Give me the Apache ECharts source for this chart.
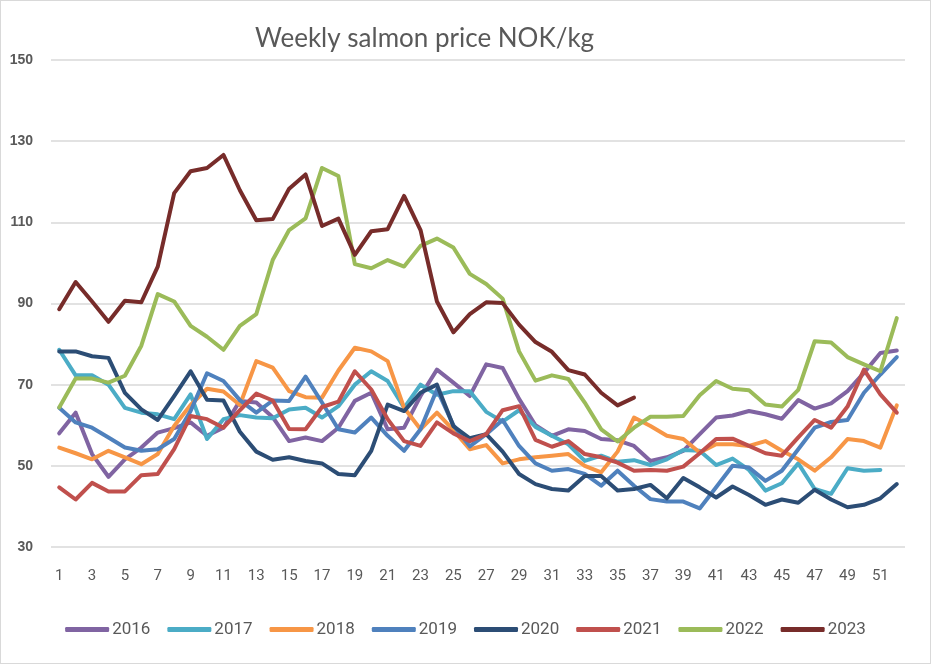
<!DOCTYPE html>
<html lang="en">
<head>
  <meta charset="UTF-8">
  <title>Weekly salmon price NOK/kg</title>
  <style>
    * { margin: 0; padding: 0; }
    html, body { width: 931px; height: 664px; background: #fff; overflow: hidden; }
    #main {
      width: 931px;
      height: 664px;
      box-sizing: border-box;
      border: 1px solid #d9d9d9;
    }
  </style>
</head>
<body>
  <div id="main"></div>
  <script src="https://cdn.jsdelivr.net/npm/echarts@6/dist/echarts.min.js"></script>
  <script>
    // weeks 1..52
    const weeks = []
    for (let i = 1; i <= 52; i++) weeks.push(String(i))

    const years = ['2016', '2017', '2018', '2019', '2020', '2021', '2022', '2023']
    const colors = ['#8064A2', '#4BACC6', '#F79646', '#4F81BD', '#2C4D75', '#C0504D', '#9BBB59', '#772C2A']

    const yTicks = { min: 30, max: 150, interval: 20 }

    const p2016 = [58.0, 63.1, 52.9, 47.3, 51.6, 54.5, 58.2, 59.3, 60.7, 57.4,
      59.4, 66.0, 65.6, 62.0, 56.1, 57.0, 56.1, 59.4, 66.0, 68.0,
      59.0, 59.4, 67.2, 73.7, 70.5, 67.2, 75.0, 74.1, 66.5, 60.0,
      57.4, 59.0, 58.6, 56.6, 56.3, 54.9, 51.2, 52.1, 53.7, 57.8,
      61.9, 62.4, 63.5, 62.7, 61.6, 66.2, 64.1, 65.4, 68.4, 72.9,
      77.8, 78.4]
    const p2017 = [78.6, 72.3, 72.3, 70.0, 64.3, 63.1, 62.7, 61.5, 67.6, 56.6,
      61.5, 62.5, 61.9, 61.7, 63.9, 64.3, 61.9, 64.7, 70.0, 73.3,
      70.9, 64.3, 70.0, 67.5, 68.4, 68.4, 63.3, 60.9, 63.7, 59.6,
      57.4, 55.3, 51.2, 52.5, 51.0, 51.4, 50.2, 51.6, 53.9, 53.7,
      50.2, 51.8, 49.0, 43.9, 45.7, 50.6, 44.3, 43.1, 49.4, 48.8,
      49.0, null]
    const p2018 = [54.5, 53.1, 51.6, 53.7, 52.1, 50.4, 52.9, 59.8, 65.0, 69.0,
      68.3, 65.0, 75.8, 74.2, 68.4, 66.9, 66.8, 73.5, 79.1, 78.2,
      75.8, 64.3, 59.0, 63.1, 58.8, 54.1, 55.1, 50.6, 51.6, 52.1,
      52.5, 52.9, 50.0, 48.4, 53.5, 61.9, 59.8, 57.4, 56.6, 53.3,
      55.3, 55.3, 54.9, 56.1, 53.7, 51.6, 48.8, 52.1, 56.6, 56.1,
      54.5, 64.9]
    const p2019 = [64.3, 60.7, 59.4, 57.0, 54.5, 53.7, 54.1, 56.6, 63.5, 72.8,
      70.9, 66.2, 63.1, 66.1, 66.0, 72.0, 65.6, 59.0, 58.2, 61.9,
      57.4, 53.7, 59.0, 68.8, 60.0, 54.8, 57.8, 61.3, 54.9, 50.6,
      48.8, 49.2, 48.0, 45.1, 48.8, 45.1, 41.8, 41.2, 41.2, 39.5,
      44.7, 50.0, 49.6, 46.3, 48.8, 54.1, 59.4, 60.8, 61.3, 68.0,
      72.5, 76.8]
    const p2020 = [78.2, 78.2, 77.0, 76.6, 68.0, 63.9, 61.3, 67.2, 73.3, 66.3,
      66.1, 58.4, 53.5, 51.5, 52.1, 51.2, 50.6, 48.0, 47.7, 53.7,
      65.1, 63.5, 68.0, 70.0, 59.8, 56.8, 57.8, 53.5, 48.0, 45.5,
      44.3, 43.9, 47.5, 47.5, 43.9, 44.3, 45.3, 42.0, 47.0, 44.7,
      42.2, 44.9, 42.8, 40.4, 41.7, 40.9, 44.1, 41.7, 39.8, 40.4,
      42.0, 45.5]
    const p2021 = [44.7, 41.7, 45.8, 43.7, 43.7, 47.7, 48.0, 54.1, 62.3, 61.5,
      59.4, 63.7, 67.8, 66.1, 59.1, 59.0, 64.5, 65.8, 73.3, 68.8,
      61.5, 56.1, 54.9, 60.7, 58.0, 56.1, 57.8, 63.7, 64.7, 56.4,
      54.7, 56.1, 52.9, 52.1, 50.8, 48.8, 49.0, 48.8, 49.8, 53.1,
      56.6, 56.7, 54.9, 53.1, 52.5, 57.0, 61.3, 59.4, 64.6, 73.7,
      67.6, 63.1]
    const p2022 = [64.4, 71.5, 71.5, 70.5, 72.2, 79.6, 92.3, 90.5, 84.5, 81.8,
      78.6, 84.5, 87.4, 100.7, 108.1, 111.0, 123.4, 121.4, 99.7, 98.7,
      100.7, 99.1, 104.2, 106.0, 103.8, 97.3, 94.8, 91.2, 78.2, 71.0,
      72.3, 71.4, 65.6, 59.0, 56.0, 59.4, 62.1, 62.1, 62.3, 67.4,
      70.9, 69.0, 68.6, 65.1, 64.6, 68.7, 80.7, 80.4, 76.8, 75.0,
      73.3, 86.4]
    const p2023 = [88.6, 95.3, 90.5, 85.5, 90.7, 90.3, 99.1, 117.2, 122.6, 123.4,
      126.6, 117.9, 110.5, 110.8, 118.3, 121.8, 109.1, 110.9, 102.0, 107.8,
      108.3, 116.5, 108.1, 90.5, 82.9, 87.4, 90.3, 90.1, 84.8, 80.5,
      78.1, 73.6, 72.5, 68.0, 64.9, 66.8]

    const seriesData = [p2016, p2017, p2018, p2019, p2020, p2021, p2022, p2023]

    const chart = echarts.init(document.getElementById('main'))
    const textColor = '#595959'

    const option = {
      animation: false,
      color: colors,
      title: {
        text: 'Weekly salmon price NOK/kg',
        left: 249,
        top: 20,
        textStyle: {
          fontFamily: 'Lato',
          fontSize: 26,
          fontWeight: 'normal',
          color: textColor
        }
      },
      grid: { left: 50, right: 25, top: 59, bottom: 116 },
      legend: {
        bottom: 20,
        left: 'center',
        icon: 'roundRect',
        itemWidth: 44,
        itemHeight: 5,
        itemGap: 17,
        textStyle: {
          fontFamily: 'Roboto',
          fontSize: 17,
          color: textColor,
          padding: [0, 0, 0, -2]
        },
        data: years
      },
      xAxis: {
        type: 'category',
        data: weeks,
        boundaryGap: true,
        axisLine: { show: false },
        axisTick: { show: false },
        axisLabel: {
          interval: 1,
          margin: 22,
          fontFamily: 'Roboto',
          fontSize: 15,
          color: textColor
        }
      },
      yAxis: {
        type: 'value',
        min: yTicks.min,
        max: yTicks.max,
        interval: yTicks.interval,
        axisLine: { show: false },
        axisTick: { show: false },
        axisLabel: {
          margin: 18,
          fontFamily: 'Liberation Sans',
          fontWeight: 'bold',
          fontSize: 14,
          color: textColor
        },
        splitLine: { lineStyle: { color: '#d9d9d9', width: 1.5 } }
      },
      series: years.map((y, i) => ({
        name: y,
        type: 'line',
        data: seriesData[i],
        symbol: 'none',
        connectNulls: false,
        lineStyle: { width: 4, color: colors[i], cap: 'round', join: 'round' },
        itemStyle: { color: colors[i] }
      }))
    }

    chart.setOption(option)
  </script>
</body>
</html>
